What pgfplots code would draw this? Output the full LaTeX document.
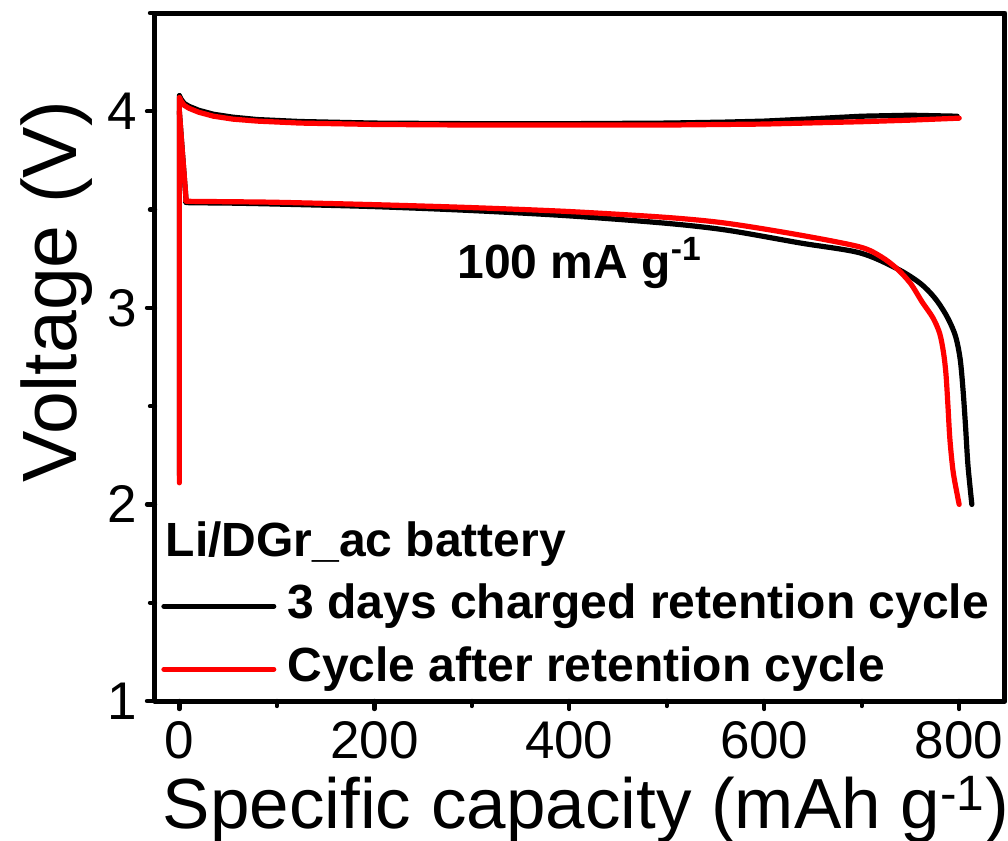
\documentclass[border=0pt]{standalone}
\usepackage{pgfplots}
\pgfplotsset{compat=1.18}
\usepackage{fontspec}
\setmainfont{Liberation Sans}
\begin{document}
\begin{tikzpicture}
\begin{axis}[name=ax, scale only axis, width=425pt, height=344pt,
  xmin=-25, xmax=847, ymin=1, ymax=4.5,
  xtick={0,200,400,600,800}, minor xtick={100,300,500,700},
  ytick={1,2,3,4}, minor ytick={1.5,2.5,3.5,4.5},
  tick align=outside, xtick pos=bottom, ytick pos=left,
  major tick length=4pt, minor tick length=2.5pt,
  every tick/.style={line width=2.2pt, black},
  axis line style={line width=2.5pt},
  /pgf/number format/assume math mode=true,
  ticklabel style={font=\fontsize{26.5}{30}\selectfont, inner sep=2pt},
  xticklabel style={yshift=-4pt},
  yticklabel style={xshift=-3pt},
  xlabel={Specific capacity (mAh g\textsuperscript{-1})},
  ylabel={Voltage (V)},
  xlabel style={font=\fontsize{35.5}{40}\selectfont, at={(axis description cs:0.507,-0.185)}, anchor=base},
  ylabel style={font=\fontsize{38.5}{42}\selectfont, at={(axis description cs:-0.092,0.595)}, anchor=base},
  legend style={at={(axis description cs:0.007,0.176)}, anchor=north west, draw=none, fill=none,
    font=\fontsize{24}{29}\selectfont\bfseries, inner sep=0pt,
    row sep=5.5pt, column sep=3.5pt,
    nodes={text height=17pt, text depth=5pt, inner sep=2pt}},
  legend cell align=left,
  legend image code/.code={\draw[#1, line width=2.5pt, line cap=round] (0pt,0pt) -- (55pt,0pt);},
  line join=round, line cap=round,
]
\addplot[black, line width=2.6pt] coordinates {
(0,2.15)(0,4.08)(2,4.06)(5,4.04)(10,4.025)(20,4.005)(35,3.985)(55,3.97)(80,3.958)(124,3.948)(200,3.94)(300,3.937)(400,3.937)(500,3.94)(560,3.945)(600,3.95)(650,3.962)(700,3.975)(750,3.98)(798,3.975)
};
\addlegendentry{3 days charged retention cycle}
\addplot[black, line width=2.6pt, forget plot] coordinates {
(0,4.0)(3,3.8)(7,3.54)
};
\addplot[black, line width=2.6pt, forget plot, smooth, tension=0.5] coordinates {
(7,3.54)(10,3.535)(50,3.533)(100,3.528)(200,3.515)(300,3.495)(400,3.468)(500,3.43)(562,3.395)(637,3.33)(698,3.28)(736,3.20)(760,3.125)(775,3.05)(787,2.96)(796,2.86)(801,2.74)(804,2.58)(806.5,2.40)(809,2.2)(813,2.0)
};
\addplot[red, line width=2.6pt] coordinates {
(0,2.11)(0,4.07)(2,4.05)(5,4.03)(10,4.015)(20,3.995)(35,3.975)(55,3.96)(80,3.95)(124,3.94)(200,3.933)(300,3.93)(400,3.93)(500,3.93)(600,3.935)(700,3.947)(750,3.955)(800,3.965)
};
\addlegendentry{Cycle after retention cycle}
\addplot[red, line width=2.6pt, forget plot] coordinates {
(0,4.0)(3,3.8)(7,3.545)
};
\addplot[red, line width=2.6pt, forget plot, smooth, tension=0.5] coordinates {
(7,3.545)(10,3.542)(50,3.54)(100,3.537)(200,3.525)(300,3.51)(400,3.49)(500,3.46)(562,3.43)(637,3.37)(698,3.31)(720,3.26)(736,3.20)(750,3.125)(762,3.03)(773,2.95)(780,2.87)(784,2.77)(786.5,2.66)(788.5,2.50)(790.5,2.33)(794,2.16)(800,2.0)
};
\node[anchor=base west, inner sep=0pt, font=\fontsize{24}{29}\selectfont\bfseries] at (axis cs:285,3.151) {100 mA g\textsuperscript{-1}};
\node[anchor=base west, inner sep=0pt, font=\fontsize{24}{29}\selectfont\bfseries] at (axis cs:-14.4,1.733) {Li/DGr\_ac battery};
\end{axis}
\pgfresetboundingbox
\path[use as bounding box] ([xshift=-77.5pt,yshift=-70pt]ax.south west) rectangle ([xshift=426.5pt,yshift=350.5pt]ax.south west);
\end{tikzpicture}
\end{document}
